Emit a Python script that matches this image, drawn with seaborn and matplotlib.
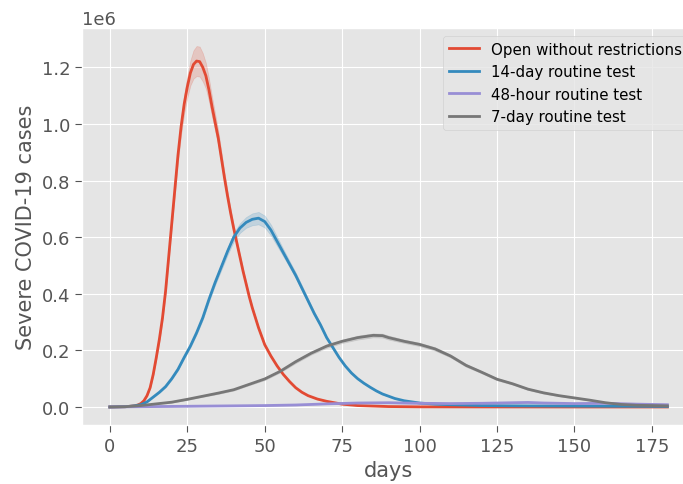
import numpy as np
import pandas as pd
import seaborn as sns
import matplotlib
matplotlib.use('Agg')
import matplotlib.pyplot as plt

# scenario names, in plotting order
scenarios = ['Open without restrictions', '14-day routine test',
             '48-hour routine test', '7-day routine test']
colors = ['#E24A33', '#348ABD', '#988ED5', '#777777']

# values (millions of severe cases), with band half-widths
open_days = [0, 5, 8, 9, 10, 11, 12, 13, 14, 15, 16, 17, 18, 19, 20, 21, 22, 23,
             24, 25, 26, 27, 28, 29, 30, 31, 32, 33, 34, 35, 36, 37, 38, 39, 40,
             41, 42, 43, 44, 45, 46, 47, 48, 49, 50, 52, 54, 56, 58, 60, 62, 64,
             67, 70, 75, 80, 90, 100, 120, 150, 180]
open_cases = [0, 0.001, 0.004, 0.007, 0.012, 0.022, 0.04, 0.068, 0.115, 0.175,
              0.24, 0.315, 0.41, 0.53, 0.65, 0.77, 0.89, 0.99, 1.07, 1.13, 1.18,
              1.21, 1.222, 1.22, 1.20, 1.17, 1.12, 1.06, 1.005, 0.95, 0.88, 0.81,
              0.745, 0.685, 0.63, 0.58, 0.53, 0.48, 0.435, 0.39, 0.35, 0.315, 0.28,
              0.25, 0.22, 0.18, 0.145, 0.115, 0.09, 0.068, 0.052, 0.04, 0.028,
              0.02, 0.01, 0.005, 0.0015, 0.0005, 0.0002, 0, 0]
open_band = [0, 0, 0, 0, 0.001, 0.001, 0.002, 0.003, 0.005, 0.007, 0.009, 0.011,
             0.013, 0.015, 0.017, 0.02, 0.024, 0.028, 0.033, 0.038, 0.044, 0.05,
             0.053, 0.053, 0.05, 0.045, 0.04, 0.035, 0.03, 0.026, 0.022, 0.019,
             0.016, 0.014, 0.012, 0.01, 0.009, 0.008, 0.007, 0.006, 0.005, 0.005,
             0.004, 0.004, 0.004, 0.003, 0.003, 0.002, 0.002, 0.002, 0.001, 0.001,
             0.001, 0.001, 0, 0, 0, 0, 0, 0, 0]

d14_days = [0, 5, 8, 10, 12, 14, 16, 18, 20, 22, 24, 26, 28, 30, 32, 34, 36, 38,
            40, 42, 44, 46, 48, 50, 52, 54, 56, 58, 60, 62, 64, 66, 68, 70, 72, 74,
            76, 78, 80, 82, 84, 86, 88, 90, 92, 95, 100, 105, 110, 120, 130, 150,
            180]
d14_cases = [0, 0.001, 0.004, 0.008, 0.018, 0.035, 0.052, 0.072, 0.10, 0.133,
             0.175, 0.215, 0.262, 0.315, 0.38, 0.44, 0.495, 0.55, 0.60, 0.632,
             0.652, 0.663, 0.667, 0.655, 0.625, 0.585, 0.545, 0.505, 0.465, 0.42,
             0.375, 0.33, 0.29, 0.245, 0.21, 0.175, 0.145, 0.12, 0.10, 0.084, 0.07,
             0.057, 0.046, 0.038, 0.03, 0.022, 0.014, 0.01, 0.008, 0.005, 0.004,
             0.003, 0.002]
d14_band = [0, 0, 0, 0.001, 0.001, 0.002, 0.002, 0.003, 0.003, 0.004, 0.004,
            0.005, 0.006, 0.007, 0.008, 0.009, 0.011, 0.013, 0.015, 0.017, 0.019,
            0.021, 0.022, 0.021, 0.019, 0.016, 0.013, 0.011, 0.01, 0.009, 0.008,
            0.007, 0.006, 0.005, 0.005, 0.004, 0.004, 0.003, 0.003, 0.002, 0.002,
            0.002, 0.002, 0.001, 0.001, 0.001, 0.001, 0, 0, 0, 0, 0, 0]

h48_days = [0, 10, 20, 30, 40, 50, 60, 70, 80, 90, 100, 110, 120, 130, 135, 140,
            150, 160, 170, 180]
h48_cases = [0, 0.001, 0.002, 0.003, 0.004, 0.005, 0.007, 0.011, 0.014, 0.015,
             0.013, 0.012, 0.013, 0.015, 0.016, 0.014, 0.012, 0.013, 0.010, 0.008]
h48_band = [0, 0, 0, 0, 0.001, 0.001, 0.001, 0.001, 0.002, 0.002, 0.002, 0.002,
            0.002, 0.002, 0.002, 0.002, 0.002, 0.002, 0.001, 0.001]

d7_days = [0, 5, 10, 15, 20, 25, 30, 35, 40, 45, 50, 55, 60, 65, 70, 75, 80, 85,
           88, 90, 95, 100, 105, 110, 115, 120, 125, 130, 135, 140, 145, 150, 155,
           160, 165, 170, 175, 180]
d7_cases = [0, 0.001, 0.005, 0.011, 0.017, 0.027, 0.038, 0.049, 0.061, 0.08,
            0.099, 0.126, 0.16, 0.19, 0.215, 0.232, 0.245, 0.253, 0.252, 0.245,
            0.232, 0.221, 0.205, 0.18, 0.147, 0.123, 0.098, 0.082, 0.063, 0.05,
            0.04, 0.032, 0.024, 0.015, 0.009, 0.006, 0.005, 0.004]
d7_band = [0, 0, 0.001, 0.001, 0.002, 0.002, 0.002, 0.003, 0.003, 0.003, 0.004,
           0.004, 0.005, 0.005, 0.006, 0.006, 0.007, 0.007, 0.007, 0.007, 0.006,
           0.006, 0.006, 0.005, 0.005, 0.004, 0.004, 0.003, 0.003, 0.003, 0.002,
           0.002, 0.002, 0.002, 0.001, 0.001, 0.001, 0.001]

series = [(open_days, open_cases, open_band), (d14_days, d14_cases, d14_band),
          (h48_days, h48_cases, h48_band), (d7_days, d7_cases, d7_band)]

# long-form table: each day gets lower / mid / upper run so seaborn draws the band
frames = []
for name, (days, cases, band) in zip(scenarios, series):
    days = np.array(days)
    cases = np.array(cases) * 1e6
    band = np.array(band) * 1e6
    for shift in (-1, 0, 1):
        frames.append(pd.DataFrame({'day': days, 'cases': cases + shift * band,
                                    'scenario': name}))
df = pd.concat(frames, ignore_index=True)

plt.style.use('ggplot')
plt.rcParams['font.size'] = 13

fig = plt.figure(figsize=(6.83, 4.85), dpi=100)
ax = fig.add_axes([0.120, 0.1216, 0.898, 0.8186])

sns.lineplot(data=df, x='day', y='cases', hue='scenario', hue_order=scenarios,
             palette=colors, errorbar=('pi', 100), linewidth=2, ax=ax)

ax.set_xlabel('days', fontsize=15, color='#555555')
ax.set_ylabel('Severe COVID-19 cases', fontsize=15, color='#555555')
ax.tick_params(labelsize=13, length=5)
ax.yaxis.get_offset_text().set_fontsize(13)

sns.move_legend(ax, 'upper right', title=None, fontsize=10.8)

fig.savefig('out.png', dpi=100)
